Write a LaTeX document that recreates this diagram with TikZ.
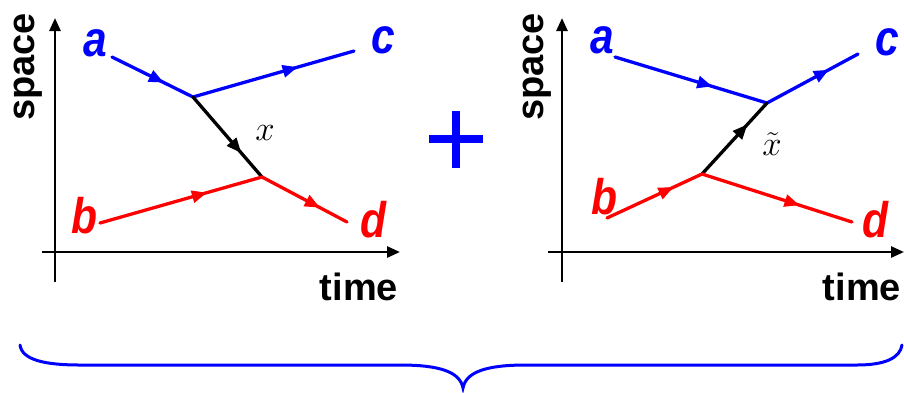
\documentclass[tikz,border=0pt]{standalone}
\usepackage{fontspec}
\setmainfont{Liberation Sans}
\usetikzlibrary{arrows.meta,decorations.markings}
\definecolor{pblue}{RGB}{0,0,255}
\definecolor{pred}{RGB}{255,0,0}
\newcommand{\bigmath}[1]{\scalebox{1.4}{\Huge$#1$}}
\tikzset{
  axisline/.style={line width=2.6pt,-{Triangle[length=13pt,width=11pt]}},
  axlabel/.style={font=\fontsize{38}{40}\selectfont\bfseries,inner sep=0pt},
  ptlabel/.style={font=\fontsize{50}{52}\selectfont\bfseries\itshape,inner sep=0pt,anchor=base,xscale=0.85},
  exlabel/.style={inner sep=0pt,anchor=base},
  world/.style={line width=3.3pt,line cap=round,postaction={decorate},
    decoration={markings,mark=at position #1 with {\arrow{Triangle[length=15pt,width=12pt]}}}},
  world/.default=0.63
}
\begin{document}
\begin{tikzpicture}[x=1pt,y=-1pt]
\useasboundingbox (0,0) rectangle (904,392);
% ---------- left panel ----------
\coordinate (LyA) at (55,282); \coordinate (LyB) at (55,18);
\coordinate (LxA) at (42,252); \coordinate (LxB) at (400,252);
\draw[axisline] (LyA) -- (LyB);
\draw[axisline] (LxA) -- (LxB);
\node[axlabel,rotate=90] (Lspace) at (28,67) {space};
\node[axlabel,anchor=base] (Ltime) at (359,300) {time};
\node[ptlabel,text=pblue] (La) at (95,56) {a};
\node[ptlabel,text=pblue] (Lc) at (383,53) {c};
\node[ptlabel,text=pred] (Lb) at (84,233) {b};
\node[ptlabel,text=pred] (Ld) at (373,237) {d};
\node[exlabel] (Lx) at (265,140) {\bigmath{x}};
\coordinate (La0) at (112,57); \coordinate (Lc0) at (354,51);
\coordinate (Lb0) at (100,223); \coordinate (Ld0) at (347,222);
\coordinate (Lv1) at (193,97); \coordinate (Lv2) at (262,177);
\draw[world=0.64,pblue] (La0) -- (Lv1);
\draw[world=0.65,pblue] (Lv1) -- (Lc0);
\draw[world=0.70,black] (Lv1) -- (Lv2);
\draw[world=0.66,pred] (Lb0) -- (Lv2);
\draw[world=0.68,pred] (Lv2) -- (Ld0);
% ---------- plus ----------
\coordinate (P) at (456,139);
\draw[pblue,line width=7.5pt] ([xshift=-27pt]P) -- ([xshift=27pt]P);
\draw[pblue,line width=7.5pt] ([yshift=-29pt]P) -- ([yshift=28pt]P);
% ---------- right panel ----------
\coordinate (RyA) at (562,282); \coordinate (RyB) at (562,18);
\coordinate (RxA) at (548,252); \coordinate (RxB) at (904,252);
\draw[axisline] (RyA) -- (RyB);
\draw[axisline] (RxA) -- (RxB);
\node[axlabel,rotate=90] (Rspace) at (537,67) {space};
\node[axlabel,anchor=base] (Rtime) at (862,300) {time};
\node[ptlabel,text=pblue] (Ra) at (602,53) {a};
\node[ptlabel,text=pblue] (Rc) at (887,55) {c};
\node[ptlabel,text=pred] (Rb) at (604,214) {b};
\node[ptlabel,text=pred] (Rd) at (875,237) {d};
\node[exlabel] (Rx) at (772,155) {\bigmath{\tilde{x}}};
\coordinate (Ra0) at (615,57); \coordinate (Rc0) at (858,54);
\coordinate (Rb0) at (607,218); \coordinate (Rd0) at (852,222);
\coordinate (Rv1) at (767,103); \coordinate (Rv2) at (702,174);
\draw[world=0.64,pblue] (Ra0) -- (Rv1);
\draw[world=0.68,pblue] (Rv1) -- (Rc0);
\draw[world=0.70,black] (Rv2) -- (Rv1);
\draw[world=0.70,pred] (Rb0) -- (Rv2);
\draw[world=0.65,pred] (Rv2) -- (Rd0);
% ---------- brace ----------
\coordinate (B0) at (20,345); \coordinate (Btip) at (463,388); \coordinate (B1) at (902,345);
\draw[pblue,line width=3pt,line cap=round]
  (B0) .. controls (22,360) and (45,365) .. (80,365) -- (400,365)
  .. controls (440,365) and (460,372) .. (Btip)
  .. controls (466,372) and (486,365) .. (526,365) -- (857,365)
  .. controls (885,365) and (900,358) .. (B1);
\end{tikzpicture}
\end{document}
